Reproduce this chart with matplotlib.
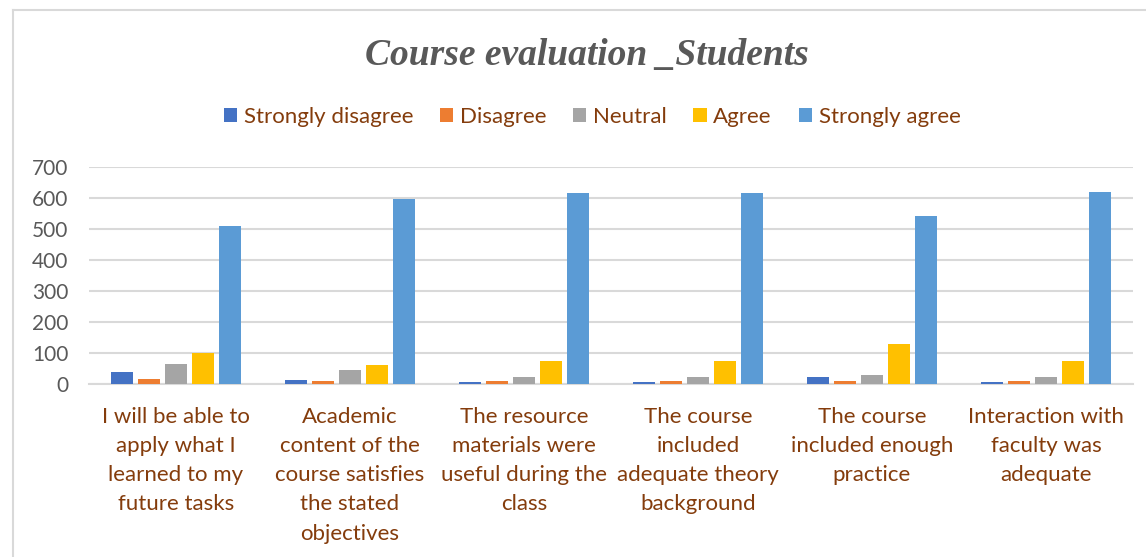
import numpy as np
import matplotlib
matplotlib.use("Agg")
import matplotlib.pyplot as plt
from matplotlib.lines import Line2D

# chart data
categories = [
    "I will be able to\napply what I\nlearned to my\nfuture tasks",
    "Academic\ncontent of the\ncourse satisfies\nthe stated\nobjectives",
    "The resource\nmaterials were\nuseful during the\nclass",
    "The course\nincluded\nadequate theory\nbackground",
    "The course\nincluded enough\npractice",
    "Interaction with\nfaculty was\nadequate",
]
series_names = ["Strongly disagree", "Disagree", "Neutral", "Agree", "Strongly agree"]
strongly_disagree = [38, 14, 7, 7, 25, 6]
disagree = [16, 12, 12, 12, 12, 12]
neutral = [66, 47, 24, 24, 30, 24]
agree = [100, 63, 74, 74, 129, 75]
strongly_agree = [510, 596, 617, 617, 540, 618]
yticks = [0, 100, 200, 300, 400, 500, 600, 700]

series = [strongly_disagree, disagree, neutral, agree, strongly_agree]
colors = ["#4472C4", "#ED7D31", "#A5A5A5", "#FFC000", "#5B9BD5"]

W, H = 1146, 557
fig = plt.figure(figsize=(W / 100, H / 100), dpi=100)
ax = fig.add_axes([89 / W, (H - 384.3) / H, (1133 - 89) / W, (384.3 - 166.7) / H])

x = np.arange(len(categories))
slot = 0.155
bw = 0.122
for i, (vals, c, name) in enumerate(zip(series, colors, series_names)):
    ax.bar(x + (i - 2) * slot, vals, bw, color=c, label=name, zorder=3)

ax.set_xlim(-0.5, len(categories) - 0.5)
ax.set_ylim(0, 700)
ax.set_yticks(yticks)
ax.grid(axis="y", color="#D9D9D9", linewidth=1.5, zorder=0)
for s in ["top", "right", "left"]:
    ax.spines[s].set_visible(False)
ax.spines["bottom"].set_color("#D9D9D9")
ax.spines["bottom"].set_linewidth(1.5)
ax.tick_params(length=0)
ax.tick_params(axis="y", labelsize=15, labelcolor="#595959", pad=15)
ax.set_xticks(x)
ax.set_xticklabels(categories, fontsize=16, color="#843C0C", linespacing=1.58,
                   va="top", family="Lato")
ax.tick_params(axis="x", pad=16)
for t in ax.get_yticklabels():
    t.set_family("Lato")

fig.text(587 / W, 1 - 56 / H, "Course evaluation _Students", ha="center", va="center",
         family="Liberation Serif", style="italic", weight="bold", fontsize=27,
         color="#595959")

leg = fig.legend(loc="center", bbox_to_anchor=(592 / W, 1 - 117 / H), ncol=5,
                 frameon=False, handlelength=0.6, handleheight=0.6,
                 handletextpad=0.3, columnspacing=1.2, prop={"family": "Lato", "size": 16})
for t in leg.get_texts():
    t.set_color("#843C0C")

# outer chart frame
fig.add_artist(Line2D([13 / W, 13 / W], [0, 1 - 10 / H], color="#D9D9D9", linewidth=1.5))
fig.add_artist(Line2D([13 / W, 1], [1 - 10 / H, 1 - 10 / H], color="#D9D9D9", linewidth=1.5))

fig.savefig("out.png", dpi=100)
